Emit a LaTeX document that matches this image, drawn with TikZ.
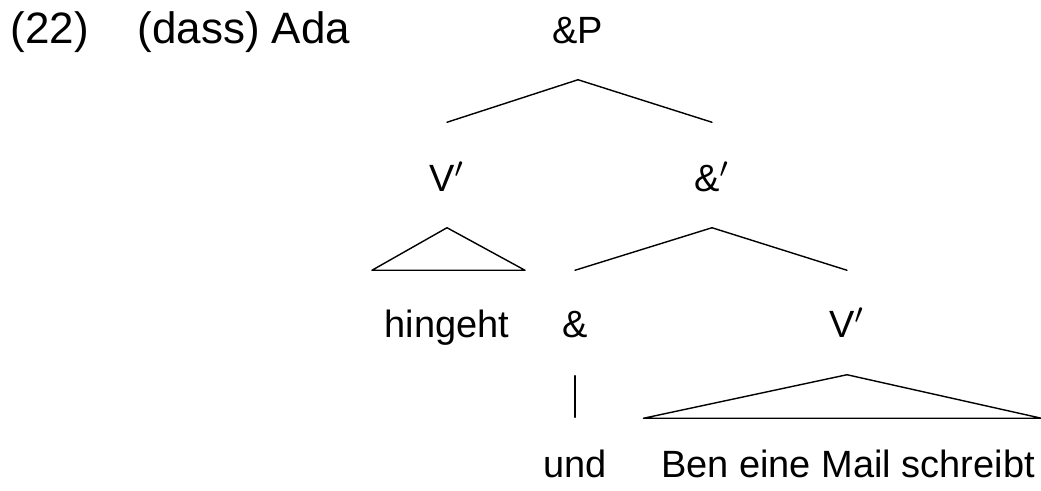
\documentclass[tikz,border=0pt]{standalone}
\usepackage{fontspec}
\setmainfont{Liberation Sans}

\begin{document}
\begin{tikzpicture}[
  x=0.01cm,
  y=-0.01cm,
  line cap=round,
  line join=round,
  every node/.style={font=\fontsize{10.8}{13}\selectfont},
  exline/.style={inner sep=0pt,anchor=base west,font=\fontsize{12.5}{15}\selectfont},
  cat/.style={inner sep=0pt,anchor=base,text height=0.28cm,text depth=0pt},
  branch/.style={line width=0.4pt},
  roof/.style={line width=0.4pt}
]
\useasboundingbox (0,0) rectangle (1041,490);

% ------------------------------------------------------------------
% Example number and preceding words
% ------------------------------------------------------------------
\node[exline] (num) at (10,43) {(22)};
\node[exline] (pre) at (137,43) {(dass) Ada};

% ------------------------------------------------------------------
% Tree nodes
% ------------------------------------------------------------------
\node[cat] (AP) at (578,43)  {\&P};
\node[cat] (Vb) at (447,191) {V$'$};
\node[cat] (Cb) at (712,191) {\&$'$};
\node[cat] (hg) at (447,337) {hingeht};
\node[cat] (Cc) at (575,337) {\&};
\node[cat] (Vc) at (847,337) {V$'$};
\node[cat] (und) at (575,477) {und};
\node[cat] (ben) at (848,477) {Ben eine Mail schreibt};

% ------------------------------------------------------------------
% Branches
% ------------------------------------------------------------------
\draw[branch] ([yshift=-0.36cm]AP.south) -- ([yshift=0.40cm]Vb.north);
\draw[branch] ([yshift=-0.36cm]AP.south) -- ([yshift=0.40cm]Cb.north);

\draw[branch] ([yshift=-0.36cm]Cb.south) -- ([yshift=0.38cm]Cc.north);
\draw[branch] ([yshift=-0.36cm]Cb.south) -- ([yshift=0.38cm]Vc.north);

\draw[branch] ([yshift=-0.38cm]Cc.south) -- ([yshift=0.31cm]und.north);

% ------------------------------------------------------------------
% Roofs
% ------------------------------------------------------------------
\draw[roof] ([yshift=-0.36cm]Vb.south)
  -- ([shift={(-0.12cm,0.38cm)}]hg.north west)
  -- ([shift={(0.15cm,0.38cm)}]hg.north east) -- cycle;

\draw[roof] ([yshift=-0.37cm]Vc.south)
  -- ([shift={(-0.17cm,0.30cm)}]ben.north west)
  -- ([shift={(0.06cm,0.30cm)}]ben.north east) -- cycle;

\end{tikzpicture}
\end{document}
